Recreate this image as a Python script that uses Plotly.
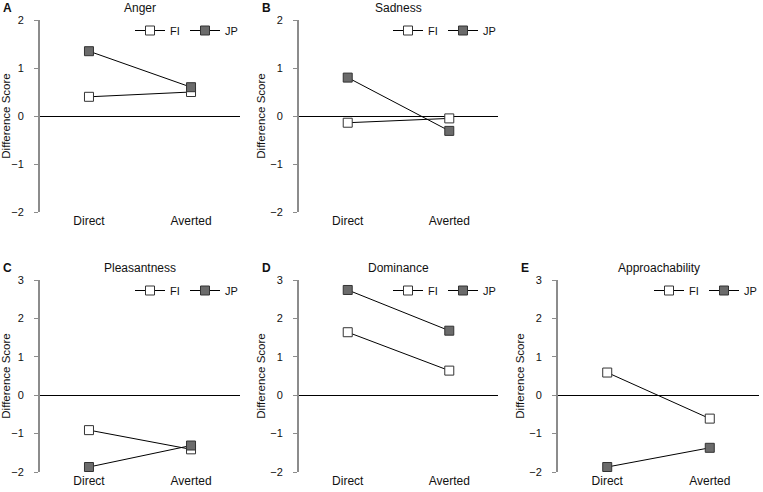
import plotly.graph_objects as go

conditions = ["Direct", "Averted"]
panels = ["Anger", "Sadness", "Pleasantness", "Dominance", "Approachability"]
letters = ["A", "B", "C", "D", "E"]
fi_values = [[0.40, 0.50], [-0.14, -0.05], [-0.91, -1.41], [1.64, 0.64], [0.59, -0.61]]
jp_values = [[1.35, 0.60], [0.80, -0.31], [-1.87, -1.31], [2.74, 1.68], [-1.87, -1.37]]
y_ranges = [[-2, 2], [-2, 2], [-2, 3], [-2, 3], [-2, 3]]

W, H = 763, 492
# pixel boxes (left, right, top, bottom) for each panel
boxes = [(40, 240, 20, 212), (299, 498, 20, 212),
         (40, 240, 280, 472), (299, 498, 280, 472), (558, 759, 280, 472)]
FONT = "Liberation Sans, Arial, sans-serif"

fig = go.Figure()
layout = dict(width=W, height=H, margin=dict(l=0, r=0, t=0, b=0, autoexpand=False),
              plot_bgcolor="white", paper_bgcolor="white",
              font=dict(family=FONT, size=11, color="#111"),
              showlegend=True, annotations=[])

for i, name in enumerate(panels):
    l, r, t, b = boxes[i]
    xd = [l / W, r / W]
    yd = [1 - b / H, 1 - t / H]
    ax = "" if i == 0 else str(i + 1)
    leg = "legend" if i == 0 else f"legend{i + 1}"
    fig.add_trace(go.Scatter(x=conditions, y=fi_values[i], name="FI", mode="lines+markers",
                             xaxis="x" + ax, yaxis="y" + ax, legend=leg,
                             line=dict(color="black", width=1),
                             marker=dict(symbol="square", size=9, color="white",
                                         line=dict(color="#333", width=1))))
    fig.add_trace(go.Scatter(x=conditions, y=jp_values[i], name="JP", mode="lines+markers",
                             xaxis="x" + ax, yaxis="y" + ax, legend=leg,
                             line=dict(color="black", width=1),
                             marker=dict(symbol="square", size=9, color="#6b6b6b",
                                         line=dict(color="#333", width=1))))
    layout["xaxis" + ax] = dict(domain=xd, anchor="y" + ax, type="category",
                                range=[-0.48, 1.48], showline=False, showgrid=False,
                                ticks="", tickfont=dict(size=12), zeroline=False,
                                fixedrange=True, automargin=False)
    layout["yaxis" + ax] = dict(domain=yd, anchor="x" + ax, range=y_ranges[i],
                                dtick=1, showgrid=False, showline=True,
                                linecolor="#8c8c8c", linewidth=2,
                                ticks="outside", ticklen=4, tickcolor="#8c8c8c",
                                tickwidth=1, tickfont=dict(size=11),
                                ticklabelstandoff=8, automargin=False,
                                zeroline=True, zerolinecolor="black", zerolinewidth=1,
                                title=dict(text="Difference Score", font=dict(size=11.5),
                                           standoff=2))
    layout[leg] = dict(x=xd[1], y=yd[1] + 4 / H, xanchor="right", yanchor="top",
                       orientation="h", bgcolor="rgba(0,0,0,0)", itemwidth=30,
                       entrywidth=10, entrywidthmode="pixels",
                       font=dict(size=11), tracegroupgap=0,
                       itemclick=False, itemdoubleclick=False)
    layout["annotations"].append(dict(text=name, x=(xd[0] + xd[1]) / 2, y=1 - (t - 12) / H,
                                      xref="paper", yref="paper", showarrow=False,
                                      font=dict(size=12), xanchor="center", yanchor="middle"))
    layout["annotations"].append(dict(text="<b>" + letters[i] + "</b>", x=(l - 39) / W,
                                      y=1 - (t - 12) / H, xref="paper", yref="paper",
                                      showarrow=False, font=dict(size=12),
                                      xanchor="left", yanchor="middle"))

fig.update_layout(**layout)
fig.write_html("out.html", config={"displayModeBar": False},
               post_script="document.body.style.margin='0';document.body.style.overflow='hidden';")
